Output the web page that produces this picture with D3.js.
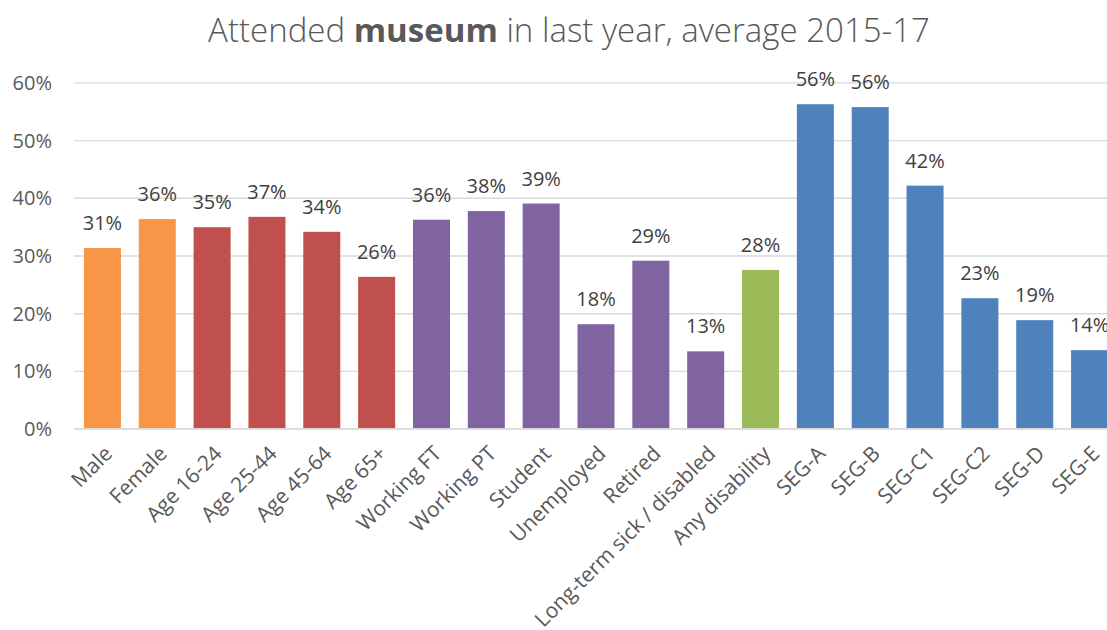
<!DOCTYPE html>
<html>
<head>
<meta charset="utf-8">
<script src="https://cdn.jsdelivr.net/npm/d3@7"></script>
<style>
  html, body { margin: 0; padding: 0; background: #fff; }
  svg { display: block; }
  svg text { font-family: "Open Sans", "Noto Sans", sans-serif; }
</style>
</head>
<body>
<svg id="chart" width="1107" height="630"></svg>
<script>
// Share of adults who attended a museum in the last year, 2015-17 average
const categories = [
  "Male", "Female", "Age 16-24", "Age 25-44", "Age 45-64", "Age 65+",
  "Working FT", "Working PT", "Student", "Unemployed", "Retired",
  "Long-term sick / disabled", "Any disability",
  "SEG-A", "SEG-B", "SEG-C1", "SEG-C2", "SEG-D", "SEG-E"
];
const values = [
  31.3, 36.3, 34.9, 36.7, 34.1, 26.3,
  36.2, 37.7, 39.0, 18.1, 29.1,
  13.4, 27.5,
  56.2, 55.7, 42.1, 22.6, 18.8, 13.6
];
// Group each category belongs to (drives bar colour)
const groups = [
  "sex", "sex", "age", "age", "age", "age",
  "work", "work", "work", "work", "work",
  "work", "disability",
  "seg", "seg", "seg", "seg", "seg", "seg"
];
const groupNames = ["sex", "age", "work", "disability", "seg"];
const groupColors = ["#F79646", "#C0504D", "#8064A2", "#9BBB59", "#4F81BD"];
const yTicks = [0, 10, 20, 30, 40, 50, 60];

const svg = d3.select("#chart");

const x = d3.scaleBand()
  .domain(categories)
  .range([75, 1117])
  .paddingInner(0.325)
  .paddingOuter(0.1625);

const y = d3.scaleLinear()
  .domain([0, 60])
  .range([428.7, 82.3]);

const color = d3.scaleOrdinal().domain(groupNames).range(groupColors);

// Horizontal gridlines
const yAxis = d3.axisLeft(y)
  .tickValues(yTicks)
  .tickSize(-(1117 - 74))
  .tickPadding(22)
  .tickFormat(d => d + "%");

const gy = svg.append("g")
  .attr("transform", "translate(74,0)")
  .call(yAxis)
  .attr("font-family", null)
  .attr("font-size", null);
gy.select(".domain").remove();
gy.selectAll(".tick line")
  .attr("stroke", "#d9d9d9")
  .attr("stroke-width", 1.3);
gy.selectAll(".tick text")
  .attr("fill", "#595959")
  .attr("font-size", "20px")
  .attr("dy", "0.35em");

const data = categories.map((c, i) => ({ c, v: values[i], g: groups[i] }));

// Bars
svg.append("g")
  .selectAll("rect")
  .data(data)
  .join("rect")
  .attr("x", d => x(d.c))
  .attr("y", d => y(d.v))
  .attr("width", x.bandwidth())
  .attr("height", d => y(0) - y(d.v))
  .attr("fill", d => color(d.g));

// Value labels
svg.append("g")
  .selectAll("text")
  .data(data)
  .join("text")
  .attr("x", d => x(d.c) + x.bandwidth() / 2)
  .attr("y", d => y(d.v) - 18)
  .attr("text-anchor", "middle")
  .attr("fill", "#404040")
  .attr("font-size", "20px")
  .text(d => Math.round(d.v) + "%");

// Category axis
const xAxis = d3.axisBottom(x).tickSize(0).tickPadding(0);
const gx = svg.append("g")
  .attr("transform", `translate(0,${y(0)})`)
  .call(xAxis)
  .attr("font-family", null)
  .attr("font-size", null);
gx.select(".domain")
  .attr("d", `M74,0H1117`)
  .attr("stroke", "#d9d9d9")
  .attr("stroke-width", 1.3);
gx.selectAll(".tick text")
  .attr("fill", "#595959")
  .attr("font-size", "21px")
  .attr("text-anchor", "end")
  .attr("transform", "translate(6,21) rotate(-45)")
  .attr("dy", "0.35em")
  .attr("y", 0)
  .attr("x", 0);

// Title
const title = svg.append("text")
  .attr("x", 569)
  .attr("y", 42)
  .attr("text-anchor", "middle")
  .attr("fill", "#595959")
  .attr("font-size", "30px")
  .attr("font-weight", 300);
title.append("tspan").text("Attended ");
title.append("tspan").attr("font-weight", 700).text("museum");
title.append("tspan").text(" in last year, average 2015-17");
const tw = title.node().getComputedTextLength();
title.attr("font-size", (30 * 722 / tw).toFixed(2) + "px");
</script>
</body>
</html>
